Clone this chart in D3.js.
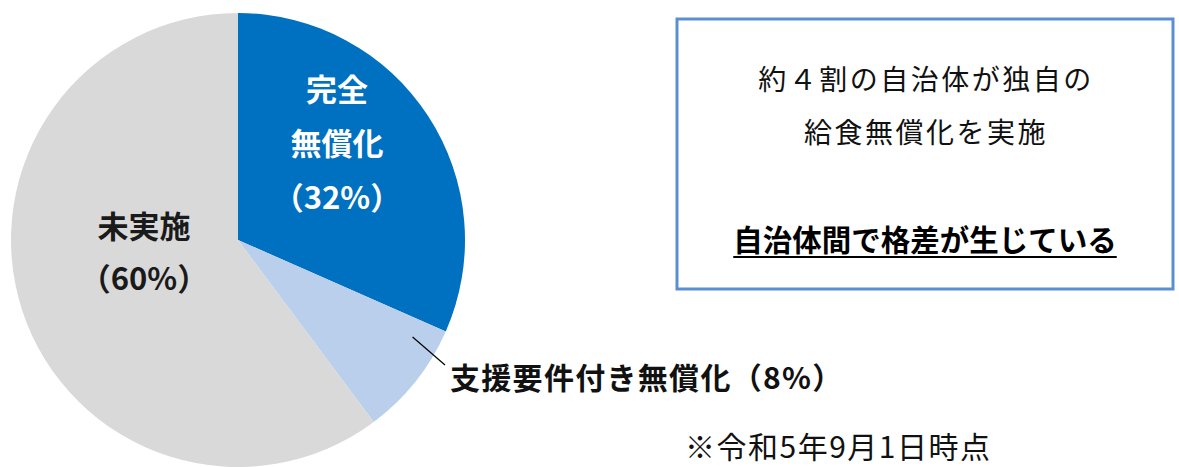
<!DOCTYPE html>
<html>
<head>
<meta charset="utf-8">
<script src="https://cdn.jsdelivr.net/npm/d3@7"></script>
<style>
  body { margin: 0; background: #fff; }
  svg { display: block; font-family: "Noto Sans CJK JP", "Noto Sans", sans-serif; }
</style>
</head>
<body>
<svg width="1179" height="467"></svg>
<script>
const categories = ["完全無償化", "支援要件付き無償化", "未実施"]
const shares = [31.6, 8.2, 60.2]
const pctLabels = ["（32%）", "（8%）", "（60%）"]
const colors = ["#0070C0", "#B9CFEC", "#D9D9D9"]
const boxLines = ["約４割の自治体が独自の", "給食無償化を実施"]
const boxEmphasis = "自治体間で格差が生じている"
const footnote = "※令和5年9月1日時点"

const svg = d3.select("svg")
const cx = 238, cy = 240, radius = 227

const pie = d3.pie().sort(null).value(d => d.value)
const arc = d3.arc().innerRadius(0).outerRadius(radius)

const data = categories.map((c, i) => ({name: c, value: shares[i], label: pctLabels[i], color: colors[i]}))
const arcs = pie(data)

const g = svg.append("g").attr("transform", `translate(${cx},${cy})`)

g.selectAll("path")
  .data(arcs)
  .join("path")
  .attr("d", arc)
  .attr("fill", d => d.data.color)

// polar position, angle 0 = top, clockwise
const polar = (a, r) => [Math.sin(a) * r, -Math.cos(a) * r]

// 完全無償化, inside the blue slice
const blue = g.append("text")
  .attr("text-anchor", "middle")
  .attr("fill", "#fff")
  .attr("font-weight", 700)
  .attr("font-size", 31)
;["完全", "無償化", arcs[0].data.label].forEach((s, i) => blue.append("tspan")
  .attr("x", 337 - cx)
  .attr("y", 101 - cy + i * 54)
  .text(s))

// 未実施, inside the grey slice
const grey = g.append("text")
  .attr("text-anchor", "middle")
  .attr("fill", "#1a1a1a")
  .attr("font-weight", 700)
  .attr("font-size", 31)
;["未実施", arcs[2].data.label].forEach((s, i) => grey.append("tspan")
  .attr("x", 144 - cx)
  .attr("y", 238 - cy + i * 52)
  .text(s))

// 支援要件付き無償化, outside with a leader line
{
  const a = arcs[1]
  const [x0, y0] = polar(a.startAngle + 0.18 * (a.endAngle - a.startAngle), radius * 0.88)
  const lx = 450 - cx, ly = 389 - cy
  g.append("line")
    .attr("x1", x0).attr("y1", y0)
    .attr("x2", lx - 5).attr("y2", ly - 24)
    .attr("stroke", "#000")
    .attr("stroke-width", 1.2)
  g.append("text")
    .attr("x", lx)
    .attr("y", ly)
    .attr("fill", "#111")
    .attr("font-weight", 700)
    .attr("font-size", 30)
    .attr("letter-spacing", 1.3)
    .text(a.data.name + a.data.label)
}

// message box
const box = {x: 677, y: 19, w: 496, h: 270}
svg.append("rect")
  .attr("x", box.x).attr("y", box.y)
  .attr("width", box.w).attr("height", box.h)
  .attr("fill", "#fff")
  .attr("stroke", "#5B8FD3")
  .attr("stroke-width", 3)

const bx = box.x + box.w / 2
svg.selectAll("text.boxline")
  .data(boxLines)
  .join("text")
  .attr("class", "boxline")
  .attr("x", bx + 1)
  .attr("y", (d, i) => 90 + i * 53)
  .attr("text-anchor", "middle")
  .attr("font-size", 28)
  .attr("letter-spacing", 2.5)
  .attr("fill", "#111")
  .text(d => d)

const emph = svg.append("text")
  .attr("x", bx)
  .attr("y", 251)
  .attr("text-anchor", "middle")
  .attr("font-size", 29.5)
  .attr("font-weight", 700)
  .attr("fill", "#000")
  .text(boxEmphasis)
const bb = emph.node().getBBox()
svg.append("line")
  .attr("x1", bb.x).attr("x2", bb.x + bb.width)
  .attr("y1", 257).attr("y2", 257)
  .attr("stroke", "#000")
  .attr("stroke-width", 2)

svg.append("text")
  .attr("x", 685)
  .attr("y", 458)
  .attr("font-size", 30)
  .attr("letter-spacing", 1.5)
  .attr("fill", "#111")
  .text(footnote)
</script>
</body>
</html>
